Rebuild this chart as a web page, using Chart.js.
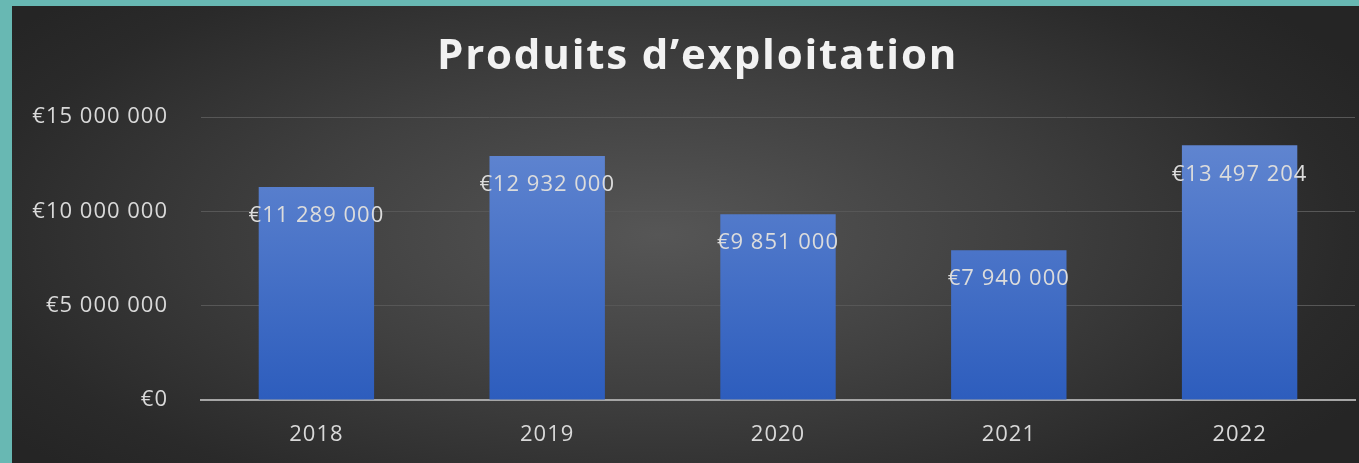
<!DOCTYPE html>
<html>
<head>
<meta charset="utf-8">
<script src="https://cdn.jsdelivr.net/npm/chart.js@4"></script>
<style>
  html, body { margin: 0; padding: 0; background: #68b8b3; }
  #wrap {
    position: absolute; left: 12px; top: 6px; width: 1347px; height: 457px;
    background: radial-gradient(ellipse 60% 75% at 48% 50%, #565656 0%, #404040 45%, #2a2a2a 85%, #252525 100%);
  }
  #title {
    position: absolute; left: 425px; top: 26px; margin: 0;
    font: bold 42px/42px 'Open Sans', sans-serif; letter-spacing: 1.8px;
    color: #f2f2f2; white-space: nowrap;
  }
  canvas { position: absolute; left: 0; top: 0; }
</style>
</head>
<body>
<div id="wrap">
  <canvas id="chart" width="1347" height="457"></canvas>
  <h1 id="title">Produits d’exploitation</h1>
</div>
<script>
// Produits d'exploitation, 2018-2022 (EUR)
const years = ["2018", "2019", "2020", "2021", "2022"];
const produits = [11289000, 12932000, 9851000, 7940000, 13497204];
const yTicks = [0, 5000000, 10000000, 15000000];

const FONT = "'Open Sans', sans-serif";
const euro = v => "€" + Math.round(v).toString().replace(/\B(?=(\d{3})+(?!\d))/g, " ");

// light-to-dark blue fill, like the original bars
const barFill = ctx => {
  const { chart } = ctx;
  const a = chart.chartArea;
  if (!a) return "#4a74c9";
  const g = chart.ctx.createLinearGradient(0, chart.scales.y.getPixelForValue(15000000), 0, a.bottom);
  g.addColorStop(0, "#6589d2");
  g.addColorStop(1, "#2d5dbd");
  return g;
};

// value labels just inside the top of each bar (text slightly spaced, as in the original)
const insideEnd = {
  id: "insideEnd",
  beforeDraw(chart) { chart.ctx.letterSpacing = "1px"; },
  afterDatasetsDraw(chart) {
    const ctx = chart.ctx;
    ctx.save();
    ctx.font = "22px " + FONT;
    ctx.fillStyle = "#dcdcdc";
    ctx.textAlign = "center";
    ctx.textBaseline = "middle";
    chart.getDatasetMeta(0).data.forEach((bar, i) => {
      ctx.fillText(euro(produits[i]), bar.x, bar.y + 29);
    });
    ctx.restore();
  },
  afterDraw(chart) { chart.ctx.letterSpacing = "0px"; },
};

new Chart(document.getElementById("chart").getContext("2d"), {
  type: "bar",
  data: {
    labels: years,
    datasets: [{
      data: produits,
      backgroundColor: barFill,
      borderWidth: 0,
      categoryPercentage: 1,
      barPercentage: 0.5,
    }],
  },
  options: {
    responsive: false,
    animation: false,
    layout: { padding: { left: 0, right: 4, top: 111, bottom: 0 } },
    plugins: {
      legend: { display: false },
      tooltip: { enabled: false },
      title: { display: false },
    },
    scales: {
      x: {
        afterFit: s => { s.height = 63; },
        grid: { display: false, drawTicks: false },
        border: { color: "#a6a6a6", width: 2 },
        ticks: { color: "#d9d9d9", font: { family: FONT, size: 22 }, padding: 22 },
      },
      y: {
        min: 0, max: 15000000,
        afterBuildTicks: s => { s.ticks = yTicks.map(v => ({ value: v })); },
        afterFit: s => { s.width = 189; },
        grid: { color: "#575757", lineWidth: 1, drawTicks: false },
        border: { display: false },
        ticks: { color: "#d9d9d9", font: { family: FONT, size: 22 }, padding: 33, callback: v => euro(v) },
      },
    },
  },
  plugins: [insideEnd],
});
</script>
</body>
</html>
